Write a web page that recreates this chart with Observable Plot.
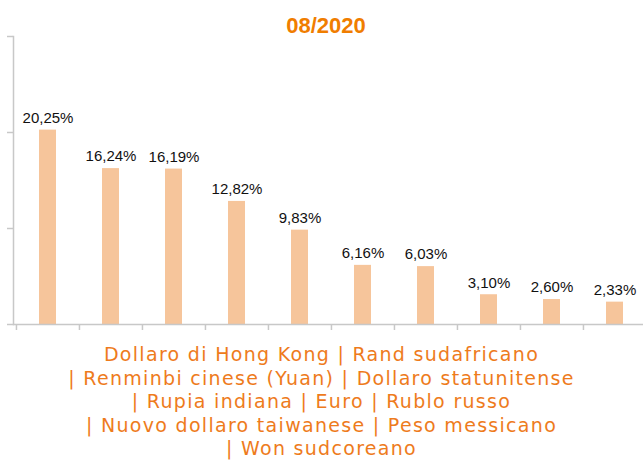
<!DOCTYPE html>
<html><head><meta charset="utf-8">
<script src="https://cdn.jsdelivr.net/npm/d3@7"></script>
<script src="https://cdn.jsdelivr.net/npm/@observablehq/plot@0.6"></script>
<style>
body{margin:0;background:#fff;width:643px;height:461px;overflow:hidden;position:relative}
#title{position:absolute;top:0;left:0;width:643px;padding-left:9px;padding-top:15px;box-sizing:border-box;text-align:center;font:bold 22px "Liberation Sans",Arial,sans-serif;color:#F07D00;line-height:22px}
#chart{position:absolute;top:30px;left:0}
#labels{position:absolute;top:343px;left:0;width:643px;text-align:center;font:19px "DejaVu Sans",sans-serif;letter-spacing:1.3px;line-height:23.5px;color:#EE7B1C;white-space:nowrap}
</style>
</head><body>
<div id="title"></div>
<div id="chart"></div>
<div id="labels"></div>
<script>
const title = "08/2020";
const categories = ["Dollaro di Hong Kong","Rand sudafricano","Renminbi cinese (Yuan)","Dollaro statunitense","Rupia indiana","Euro","Rublo russo","Nuovo dollaro taiwanese","Peso messicano","Won sudcoreano"];
const values = [20.25,16.24,16.19,12.82,9.83,6.16,6.03,3.10,2.60,2.33];
const yTicks = [0,10,20,30];
const lineGroups = [[0,1],[2,3],[4,5,6],[7,8],[9]];

const data = categories.map((name,i)=>({name, value: values[i]}));
const fmt = v => v.toFixed(2).replace(".", ",") + "%";
const gray = "#c8c8c8";
const xRange = [15, 646];
const step = (xRange[1]-xRange[0]) / categories.length;

document.getElementById("title").textContent = title;

const chart = Plot.plot({
  width: 643,
  height: 300,
  marginTop: 6,
  marginBottom: 6,
  marginLeft: 13,
  marginRight: 0,
  x: {domain: categories, range: xRange, padding: 0, axis: null},
  y: {domain: [0, 30], label: null},
  style: {fontFamily: '"Liberation Sans", Arial, sans-serif', overflow: "visible"},
  marks: [
    Plot.barY(data, {x: "name", y: "value", fill: "#F6C59B", insetLeft: 23, insetRight: 23}),
    Plot.axisY({ticks: yTicks, tickSize: 6, tickFormat: () => "", label: null, stroke: gray, strokeWidth: 1.5, strokeOpacity: 1}),
    Plot.frame({anchor: "left", stroke: gray, strokeWidth: 1.5}),
    Plot.ruleY([0], {stroke: gray, strokeWidth: 1.5}),
    Plot.ruleX(categories, {x: d => d, dx: -step/2, y1: 0, y2: 0, insetBottom: -6, stroke: gray, strokeWidth: 1.5}),
    Plot.text(data, {x: "name", y: "value", text: d => fmt(d.value), dy: -12, fontSize: 15, fill: "#111"})
  ]
});
document.getElementById("chart").appendChild(chart);

const lab = document.getElementById("labels");
lineGroups.forEach((g, li) => {
  const div = document.createElement("div");
  div.textContent = (li > 0 ? "| " : "") + g.map(i => categories[i]).join(" | ");
  lab.appendChild(div);
});
</script>
</body></html>
